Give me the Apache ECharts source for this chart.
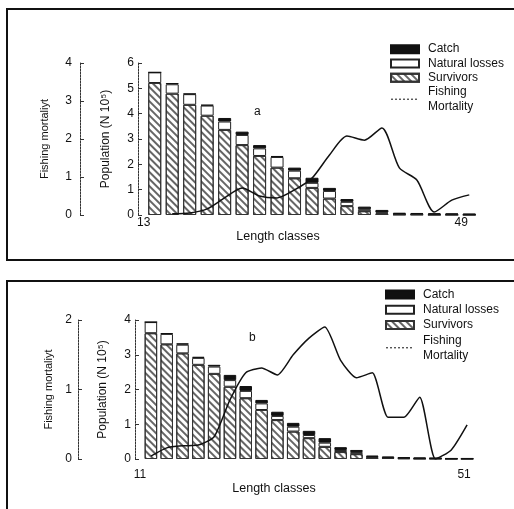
<!DOCTYPE html>
<html>
<head>
<meta charset="utf-8">
<script src="https://cdn.jsdelivr.net/npm/echarts@6.0.0/dist/echarts.min.js"></script>
<style>
html,body{margin:0;padding:0;background:#fff;}
#c{width:514px;height:509px;}
</style>
</head>
<body>
<div id="c"></div>
<script>
// ---------- Panel a ----------
const classesA = [13,15,17,19,21,23,25,27,29,31,33,35,37,39,41,43,45,47,49];
const survivorsA = [5.21,4.79,4.35,3.92,3.36,2.76,2.33,1.87,1.45,1.07,0.65,0.35,0.15,0.06,0.02,0.02,0.01,0.01,0.01];
const naturalA   = [0.42,0.37,0.42,0.40,0.33,0.40,0.30,0.42,0.30,0.20,0.30,0.17,0.08,0.04,0.02,0.02,0.02,0.02,0.01];
const catchA     = [0.00,0.05,0.02,0.03,0.14,0.13,0.13,0.04,0.12,0.20,0.12,0.11,0.10,0.10,0.05,0.04,0.04,0.03,0.03];
const mortalityA = [null,0.03,0.05,0.16,0.45,0.71,0.50,0.45,0.66,0.97,1.58,2.08,1.97,2.29,1.24,0.92,0.08,0.39,0.53];
const popTicksA = [0,1,2,3,4,5,6];
const mortTicksA = [0,1,2,3,4];

// ---------- Panel b ----------
const classesB = [11,13,15,17,19,21,23,25,27,29,31,33,35,37,39,41,43,45,47,49,51];
const survivorsB = [3.62,3.30,3.04,2.71,2.45,2.08,1.75,1.41,1.12,0.79,0.60,0.35,0.20,0.14,0.04,0.03,0.02,0.01,0.01,0.005,0.005];
const naturalB   = [0.32,0.30,0.25,0.20,0.21,0.19,0.21,0.19,0.12,0.14,0.09,0.12,0.06,0.06,0.02,0.01,0.01,0.01,0.01,0.005,0.005];
const catchB     = [0.00,0.02,0.04,0.03,0.05,0.15,0.14,0.10,0.12,0.11,0.12,0.13,0.08,0.06,0.04,0.03,0.02,0.02,0.01,0.01,0.01];
const mortalityB = [0.04,0.16,0.19,0.20,0.32,0.85,1.24,1.31,1.21,1.50,1.74,1.90,1.42,1.17,1.24,0.60,0.60,0.89,0.00,0.13,0.49];
const popTicksB = [0,1,2,3,4];
const mortTicksB = [0,1,2];

const FONT = '"Liberation Sans", Arial, sans-serif';
const INK = '#111';

const hatch = {
  symbol: 'rect', symbolSize: 1,
  dashArrayX: [1, 0], dashArrayY: [1.2, 2.2],
  rotation: Math.PI / 4,
  color: 'rgba(0,0,0,0.6)'
};

function xAxisFor(gridIndex, classes, margin, nameGap, shiftFirst, shiftLast, namePad) {
  const last = classes.length - 1;
  return {
    type: 'category', gridIndex, data: classes.map(String), boundaryGap: true,
    axisLine: {show: false}, axisTick: {show: false}, splitLine: {show: false},
    axisLabel: {
      interval: 0, margin, color: INK, fontSize: 12, fontFamily: FONT,
      formatter: (v, i) => i === 0 ? '{f|' + v + '}' : (i === last ? '{l|' + v + '}' : ''),
      rich: {f: {padding: [0, shiftFirst, 0, 0], fontSize: 12}, l: {padding: [0, shiftLast, 0, 0], fontSize: 12}}
    },
    name: 'Length classes', nameLocation: 'middle', nameGap,
    nameTextStyle: {color: INK, fontSize: 12.5, fontFamily: FONT, padding: [0, namePad, 0, 0]}
  };
}

function yAxisFor(gridIndex, max, offset, name, nameGap, nameSize, labelMargin) {
  return {
    type: 'value', gridIndex, min: 0, max, interval: 1, position: 'left', offset,
    axisLine: {show: true, lineStyle: {color: '#333', width: 1, type: [2, 1]}},
    axisTick: {show: true, inside: true, length: 4, lineStyle: {color: '#333'}},
    splitLine: {show: false},
    axisLabel: {color: INK, fontSize: 12, fontFamily: FONT, margin: labelMargin},
    name, nameLocation: 'middle', nameGap, nameRotate: 90,
    nameTextStyle: {color: INK, fontSize: nameSize, fontFamily: FONT}
  };
}

function barSeries(name, data, xi, yi, style, bw) {
  return {
    name, type: 'bar', stack: 'pop' + xi, xAxisIndex: xi, yAxisIndex: yi,
    data, barWidth: bw, itemStyle: style, emphasis: {disabled: true}
  };
}

const survStyle = {color: '#fff', borderColor: '#333', borderWidth: 1, decal: hatch};
const natStyle = {color: '#fff', borderColor: '#222', borderWidth: 1};
const catchStyle = {color: '#111', borderColor: '#111', borderWidth: 1};

function legendFor(left, top, lh) {
  return {
    orient: 'vertical', left, top, itemWidth: 28, itemHeight: 8, itemGap: 0,
    selectedMode: false,
    textStyle: {color: INK, fontSize: 12, fontFamily: FONT, lineHeight: lh, padding: [0, 0, 0, 4]},
    formatter: n => n === 'Fishing Mortality' ? 'Fishing\nMortality' : n,
    data: [
      {name: 'Catch', icon: 'rect'},
      {name: 'Natural losses', icon: 'rect'},
      {name: 'Survivors', icon: 'rect'},
      {name: 'Fishing Mortality', itemStyle: {opacity: 0}, lineStyle: {type: [2, 2], width: 1}}
    ]
  };
}

const option = {
  animation: false,
  backgroundColor: '#fff',
  textStyle: {fontFamily: FONT, color: INK},
  grid: [
    {left: 146, top: 63, width: 332, height: 152},
    {left: 143, top: 320, width: 332, height: 139}
  ],
  xAxis: [
    xAxisFor(0, classesA, 2, 13, 22, 16, 68),
    xAxisFor(1, classesB, 10, 22, 22, 6, 70)
  ],
  yAxis: [
    yAxisFor(0, popTicksA[popTicksA.length - 1], 8, 'Population (N 10\u2075)', 26, 12, 4),
    yAxisFor(0, mortTicksA[mortTicksA.length - 1], 66, 'Fishing mortaliyt', 30, 11, 8),
    yAxisFor(1, popTicksB[popTicksB.length - 1], 8, 'Population (N 10\u2075)', 26, 12, 4),
    yAxisFor(1, mortTicksB[mortTicksB.length - 1], 65, 'Fishing mortaliyt', 20, 11, 6)
  ],
  legend: [legendFor(385, 37, 14.3), legendFor(380, 282, 15.2)],
  graphic: [
    {type: 'rect', shape: {x: 7, y: 9, width: 530, height: 251}, style: {fill: 'none', stroke: '#111', lineWidth: 2}, silent: true},
    {type: 'rect', shape: {x: 7, y: 281, width: 530, height: 260}, style: {fill: 'none', stroke: '#111', lineWidth: 2}, silent: true},
    {type: 'text', left: 254, top: 106, style: {text: 'a', fontSize: 12, fontFamily: FONT, fill: INK}},
    {type: 'text', left: 249, top: 332, style: {text: 'b', fontSize: 12, fontFamily: FONT, fill: INK}}
  ],
  series: [
    barSeries('Survivors', survivorsA, 0, 0, survStyle, 13),
    barSeries('Natural losses', naturalA, 0, 0, natStyle, 13),
    barSeries('Catch', catchA, 0, 0, catchStyle, 13),
    {name: 'Fishing Mortality', type: 'line', xAxisIndex: 0, yAxisIndex: 1, data: mortalityA,
     symbol: 'none', smooth: 0.25, lineStyle: {color: '#111', width: 1.5}, itemStyle: {color: '#111'}, z: 5},
    barSeries('Survivors', survivorsB, 1, 2, survStyle, 12.5),
    barSeries('Natural losses', naturalB, 1, 2, natStyle, 12.5),
    barSeries('Catch', catchB, 1, 2, catchStyle, 12.5),
    {name: 'Fishing Mortality', type: 'line', xAxisIndex: 1, yAxisIndex: 3, data: mortalityB,
     symbol: 'none', smooth: 0.2, lineStyle: {color: '#111', width: 1.5}, itemStyle: {color: '#111'}, z: 5}
  ]
};

const chart = echarts.init(document.getElementById('c'), null, {renderer: 'canvas'});
chart.setOption(option);
</script>
</body>
</html>
